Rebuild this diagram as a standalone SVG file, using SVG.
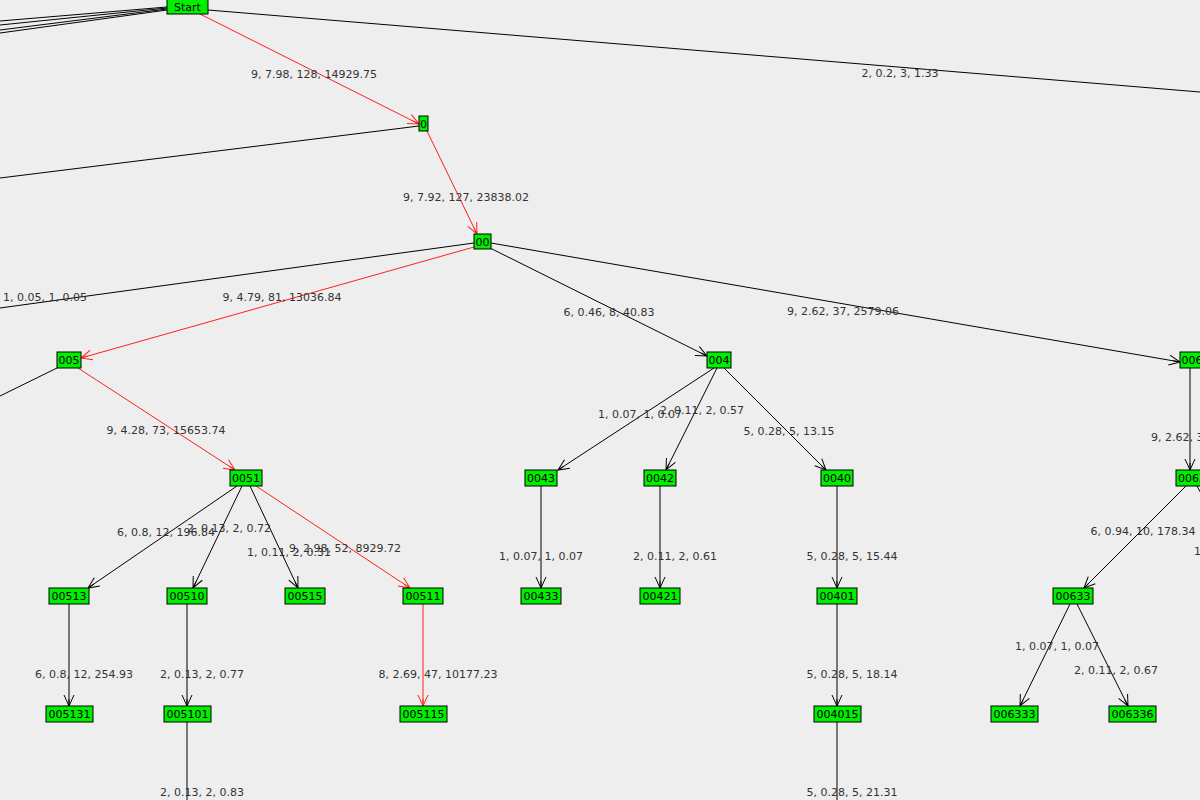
<svg xmlns="http://www.w3.org/2000/svg" width="1200" height="800" viewBox="0 0 1200 800">
<style>
.bg{fill:#eeeeee}
.e{stroke:#000;stroke-width:1;fill:none}
.r{stroke:#ff2020;stroke-width:1;fill:none}
.n rect{fill:#00ee00;stroke:#000;stroke-width:1}
.n text{font-family:"DejaVu Sans",sans-serif;font-size:11px;fill:#000;text-anchor:middle}
.l{font-family:"DejaVu Sans",sans-serif;font-size:11px;fill:#333;text-anchor:middle}
</style>
<defs>
<marker id="ab" markerUnits="userSpaceOnUse" markerWidth="14" markerHeight="14" refX="12" refY="6" orient="auto" viewBox="0 0 14 12"><path d="M1,1 L12,6 L1,11 M12,6 L5,6" stroke="#000" fill="none"/></marker>
<marker id="ar" markerUnits="userSpaceOnUse" markerWidth="14" markerHeight="14" refX="12" refY="6" orient="auto" viewBox="0 0 14 12"><path d="M1,1 L12,6 L1,11 M12,6 L5,6" stroke="#ff2020" fill="none"/></marker>
</defs>
<rect class="bg" x="0" y="0" width="1200" height="800"/>
<g id="connectors">
<line class="e" x1="167" y1="7" x2="0" y2="21"/>
<line class="e" x1="167" y1="8" x2="0" y2="25"/>
<line class="e" x1="167" y1="9" x2="0" y2="30"/>
<line class="e" x1="167" y1="10" x2="0" y2="33"/>
<line class="e" x1="208" y1="10" x2="1200" y2="92"/>
<line class="r" x1="200" y1="14" x2="419" y2="124" marker-end="url(#ar)"/>
<line class="e" x1="419" y1="126" x2="0" y2="178"/>
<line class="r" x1="427" y1="131" x2="477" y2="234" marker-end="url(#ar)"/>
<line class="e" x1="474" y1="243" x2="0" y2="308"/>
<line class="r" x1="474" y1="247" x2="81" y2="358" marker-end="url(#ar)"/>
<line class="e" x1="490" y1="248" x2="707" y2="356" marker-end="url(#ab)"/>
<line class="e" x1="491" y1="243" x2="1180" y2="362" marker-end="url(#ab)"/>
<line class="e" x1="57" y1="368" x2="0" y2="396"/>
<line class="r" x1="78" y1="368" x2="235" y2="470" marker-end="url(#ar)"/>
<line class="e" x1="714" y1="368" x2="558" y2="470" marker-end="url(#ab)"/>
<line class="e" x1="717" y1="368" x2="666" y2="470" marker-end="url(#ab)"/>
<line class="e" x1="724" y1="368" x2="826" y2="470" marker-end="url(#ab)"/>
<line class="e" x1="1190" y1="368" x2="1190" y2="470" marker-end="url(#ab)"/>
<line class="e" x1="237" y1="486" x2="88" y2="588" marker-end="url(#ab)"/>
<line class="e" x1="242" y1="486" x2="193" y2="588" marker-end="url(#ab)"/>
<line class="e" x1="250" y1="486" x2="298" y2="588" marker-end="url(#ab)"/>
<line class="r" x1="256" y1="486" x2="410" y2="588" marker-end="url(#ar)"/>
<line class="e" x1="541" y1="486" x2="541" y2="588" marker-end="url(#ab)"/>
<line class="e" x1="660" y1="486" x2="660" y2="588" marker-end="url(#ab)"/>
<line class="e" x1="837" y1="486" x2="837" y2="588" marker-end="url(#ab)"/>
<line class="e" x1="1186" y1="486" x2="1084" y2="588" marker-end="url(#ab)"/>
<line class="e" x1="1197" y1="486" x2="1212" y2="514"/>
<line class="e" x1="69" y1="604" x2="69" y2="706" marker-end="url(#ab)"/>
<line class="e" x1="187" y1="604" x2="187" y2="706" marker-end="url(#ab)"/>
<line class="r" x1="423" y1="604" x2="423" y2="706" marker-end="url(#ar)"/>
<line class="e" x1="837" y1="604" x2="837" y2="706" marker-end="url(#ab)"/>
<line class="e" x1="1070" y1="604" x2="1020" y2="706" marker-end="url(#ab)"/>
<line class="e" x1="1077" y1="604" x2="1128" y2="706" marker-end="url(#ab)"/>
<line class="e" x1="187" y1="722" x2="187" y2="800"/>
<line class="e" x1="837" y1="722" x2="837" y2="800"/>
</g>
<g id="labels">
<text class="l" x="314" y="78">9, 7.98, 128, 14929.75</text>
<text class="l" x="900" y="77">2, 0.2, 3, 1.33</text>
<text class="l" x="466" y="201">9, 7.92, 127, 23838.02</text>
<text class="l" x="45" y="301">1, 0.05, 1, 0.05</text>
<text class="l" x="282" y="301">9, 4.79, 81, 13036.84</text>
<text class="l" x="609" y="316">6, 0.46, 8, 40.83</text>
<text class="l" x="843" y="315">9, 2.62, 37, 2579.06</text>
<text class="l" x="166" y="434">9, 4.28, 73, 15653.74</text>
<text class="l" x="640" y="418">1, 0.07, 1, 0.07</text>
<text class="l" x="702" y="414">2, 0.11, 2, 0.57</text>
<text class="l" x="789" y="435">5, 0.28, 5, 13.15</text>
<text class="l" x="1151" y="441" style="text-anchor:start">9, 2.62, 37, 2579.06</text>
<text class="l" x="166" y="536">6, 0.8, 12, 196.84</text>
<text class="l" x="229" y="532">2, 0.13, 2, 0.72</text>
<text class="l" x="289" y="556">1, 0.11, 2, 0.31</text>
<text class="l" x="345" y="552">9, 2.98, 52, 8929.72</text>
<text class="l" x="1143" y="535">6, 0.94, 10, 178.34</text>
<text class="l" x="1194" y="555" style="text-anchor:start">1</text>
<text class="l" x="541" y="560">1, 0.07, 1, 0.07</text>
<text class="l" x="675" y="560">2, 0.11, 2, 0.61</text>
<text class="l" x="852" y="560">5, 0.28, 5, 15.44</text>
<text class="l" x="84" y="678">6, 0.8, 12, 254.93</text>
<text class="l" x="202" y="678">2, 0.13, 2, 0.77</text>
<text class="l" x="438" y="678">8, 2.69, 47, 10177.23</text>
<text class="l" x="852" y="678">5, 0.28, 5, 18.14</text>
<text class="l" x="1057" y="650">1, 0.07, 1, 0.07</text>
<text class="l" x="1116" y="674">2, 0.11, 2, 0.67</text>
<text class="l" x="202" y="796">2, 0.13, 2, 0.83</text>
<text class="l" x="852" y="796">5, 0.28, 5, 21.31</text>
</g>
<g id="n-start" class="n"><rect x="167" y="-2" width="41" height="16"/><text x="187.5" y="11">Start</text></g>
<g id="n-0" class="n"><rect x="419" y="116" width="9" height="15"/><text x="423.5" y="128">0</text></g>
<g id="n-00" class="n"><rect x="474" y="234" width="17" height="15"/><text x="482.5" y="246">00</text></g>
<g id="n-005" class="n"><rect x="57" y="352" width="24" height="16"/><text x="69" y="364">005</text></g>
<g id="n-004" class="n"><rect x="707" y="352" width="24" height="16"/><text x="719" y="364">004</text></g>
<g id="n-006" class="n"><rect x="1180" y="352" width="24" height="16"/><text x="1192" y="364">006</text></g>
<g id="n-0051" class="n"><rect x="230" y="470" width="32" height="16"/><text x="246" y="482">0051</text></g>
<g id="n-0043" class="n"><rect x="525" y="470" width="32" height="16"/><text x="541" y="482">0043</text></g>
<g id="n-0042" class="n"><rect x="644" y="470" width="32" height="16"/><text x="660" y="482">0042</text></g>
<g id="n-0040" class="n"><rect x="821" y="470" width="32" height="16"/><text x="837" y="482">0040</text></g>
<g id="n-0063" class="n"><rect x="1176" y="470" width="32" height="16"/><text x="1192" y="482">0063</text></g>
<g id="n-00513" class="n"><rect x="49" y="588" width="40" height="16"/><text x="69" y="600">00513</text></g>
<g id="n-00510" class="n"><rect x="167" y="588" width="40" height="16"/><text x="187" y="600">00510</text></g>
<g id="n-00515" class="n"><rect x="285" y="588" width="40" height="16"/><text x="305" y="600">00515</text></g>
<g id="n-00511" class="n"><rect x="403" y="588" width="40" height="16"/><text x="423" y="600">00511</text></g>
<g id="n-00433" class="n"><rect x="521" y="588" width="40" height="16"/><text x="541" y="600">00433</text></g>
<g id="n-00421" class="n"><rect x="640" y="588" width="40" height="16"/><text x="660" y="600">00421</text></g>
<g id="n-00401" class="n"><rect x="817" y="588" width="40" height="16"/><text x="837" y="600">00401</text></g>
<g id="n-00633" class="n"><rect x="1053" y="588" width="40" height="16"/><text x="1073" y="600">00633</text></g>
<g id="n-005131" class="n"><rect x="46" y="706" width="47" height="16"/><text x="69.5" y="718">005131</text></g>
<g id="n-005101" class="n"><rect x="164" y="706" width="47" height="16"/><text x="187.5" y="718">005101</text></g>
<g id="n-005115" class="n"><rect x="400" y="706" width="47" height="16"/><text x="423.5" y="718">005115</text></g>
<g id="n-004015" class="n"><rect x="814" y="706" width="47" height="16"/><text x="837.5" y="718">004015</text></g>
<g id="n-006333" class="n"><rect x="991" y="706" width="47" height="16"/><text x="1014.5" y="718">006333</text></g>
<g id="n-006336" class="n"><rect x="1109" y="706" width="47" height="16"/><text x="1132.5" y="718">006336</text></g>
</svg>
